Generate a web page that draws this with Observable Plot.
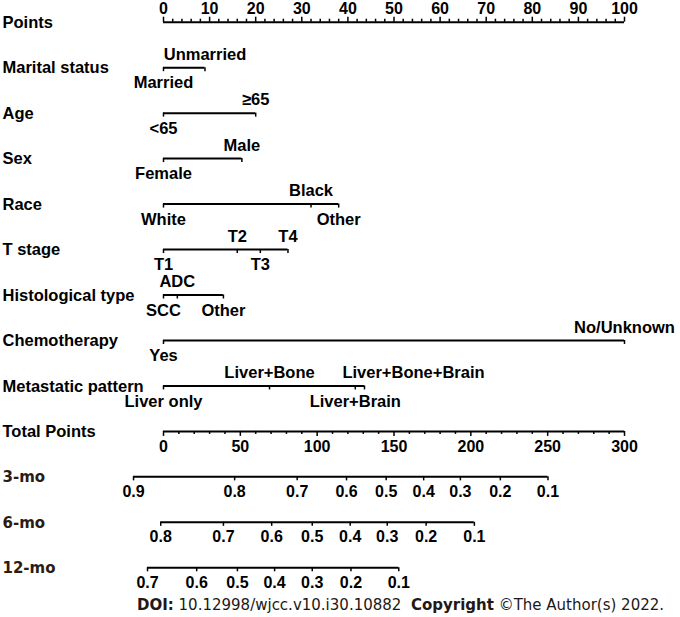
<!DOCTYPE html>
<html><head><meta charset="utf-8">
<script src="https://cdn.jsdelivr.net/npm/d3@7"></script>
<script src="https://cdn.jsdelivr.net/npm/@observablehq/plot@0.6"></script>
<style>
html,body{margin:0;padding:0;background:#fff;overflow:hidden;}
#cap{font-family:"DejaVu Sans",Verdana,sans-serif;font-size:15px;color:#231815;padding-left:137px;line-height:22px;height:22px;white-space:pre;}
</style></head><body>
<div id="chart"></div>
<div id="cap"><b>DOI:</b> 10.12998/wjcc.v10.i30.10882  <b>Copyright</b> ©The Author(s) 2022.</div>
<script>
// ---- data ----
const rows = ["Points","Marital status","Age","Sex","Race","T stage","Histological type","Chemotherapy","Metastatic pattern","Total Points","3-mo","6-mo","12-mo"];

const pointsMajor = [0,10,20,30,40,50,60,70,80,90,100];
const pointsMinor = [2,4,6,8,12,14,16,18,22,24,26,28,32,34,36,38,42,44,46,48,52,54,56,58,62,64,66,68,72,74,76,78,82,84,86,88,92,94,96,98];
const totalMajor = [0,50,100,150,200,250,300];
const totalMinor = [10,20,30,40,60,70,80,90,110,120,130,140,160,170,180,190,210,220,230,240,260,270,280,290];

const maritalLevels = ["Married","Unmarried"];
const maritalPoints = [0,9];
const ageLevels = ["<65","≥65"];
const agePoints = [0,20];
const sexLevels = ["Female","Male"];
const sexPoints = [0,17];
const raceLevels = ["White","Black","Other"];
const racePoints = [0,32,38];
const tLevels = ["T1","T2","T3","T4"];
const tPoints = [0,16,21,27];
const histLevels = ["SCC","ADC","Other"];
const histPoints = [0,3,13];
const chemoLevels = ["Yes","No/Unknown"];
const chemoPoints = [0,100];
const metaLevels = ["Liver only","Liver+Bone","Liver+Brain","Liver+Bone+Brain"];
const metaPoints = [0,23,41.6,43.6];

const s3Probs = [0.9,0.8,0.7,0.6,0.5,0.4,0.3,0.2,0.1];
const s3Total = [-19.5,46.3,87.0,119.1,144.9,169.3,193.2,219.2,250.2];
const s6Probs = [0.8,0.7,0.6,0.5,0.4,0.3,0.2,0.1];
const s6Total = [-1.8,39.0,70.4,96.8,121.5,145.6,170.9,202.3];
const s12Probs = [0.7,0.6,0.5,0.4,0.3,0.2,0.1];
const s12Total = [-10.4,21.6,48.1,72.3,96.8,122.0,153.1];

// ---- build tables ----
const variables = [
  {row:"Marital status", levels: maritalLevels, points: maritalPoints},
  {row:"Age", levels: ageLevels, points: agePoints},
  {row:"Sex", levels: sexLevels, points: sexPoints},
  {row:"Race", levels: raceLevels, points: racePoints},
  {row:"T stage", levels: tLevels, points: tPoints},
  {row:"Histological type", levels: histLevels, points: histPoints},
  {row:"Chemotherapy", levels: chemoLevels, points: chemoPoints},
  {row:"Metastatic pattern", levels: metaLevels, points: metaPoints}
];
const varLines = variables.map(v => ({row: v.row, lo: d3.min(v.points), hi: d3.max(v.points)}));
const levelData = variables.flatMap(v => {
  const items = v.levels.map((l, i) => ({row: v.row, label: l, pts: v.points[i]}));
  items.sort((a, b) => a.pts - b.pts);
  return items.map((d, i) => ({...d, above: i % 2 === 1}));
});
const shifted = new Set(["Liver+Bone+Brain"]);

const survAxes = [
  {row:"3-mo", probs: s3Probs, total: s3Total},
  {row:"6-mo", probs: s6Probs, total: s6Total},
  {row:"12-mo", probs: s12Probs, total: s12Total}
];
const survLines = survAxes.map(a => ({row: a.row, lo: d3.min(a.total) / 3, hi: d3.max(a.total) / 3}));
const survTicks = survAxes.flatMap(a => a.probs.map((p, i) => ({row: a.row, prob: p, x: a.total[i] / 3})));

// ---- layout ----
const bw = 45.47;
const up = L => ({insetTop: bw / 2 - L, insetBottom: bw / 2});
const down = L => ({insetTop: bw / 2, insetBottom: bw / 2 - L});
const F = {fontFamily: "'Liberation Sans', Arial, sans-serif", fontWeight: "bold", fill: "#000"};
const F2 = {fontFamily: "'DejaVu Sans', Verdana, sans-serif", fontWeight: "bold", fill: "#2b1b12"};
const LW = 2, TW = 1.5;

const chart = Plot.plot({
  width: 680,
  height: 594,
  marginLeft: 163,
  marginRight: 56,
  marginTop: 0,
  marginBottom: 0,
  x: {domain: [0, 100], axis: null},
  y: {type: "band", domain: rows, range: [21.7 - bw / 2, 567.3 + bw / 2], padding: 0, round: false, axis: null},
  style: {background: "white", overflow: "visible"},
  marks: [
    // row labels
    Plot.text(rows.slice(0, 10), {y: d => d, frameAnchor: "left", textAnchor: "start", dx: -161, dy: 0.5, text: d => d, fontSize: 16.5, ...F}),
    Plot.text(rows.slice(10), {y: d => d, frameAnchor: "left", textAnchor: "start", dx: -161, dy: 0.5, text: d => d, fontSize: 15, ...F2}),
    // Points axis
    Plot.ruleY([{row: "Points", lo: 0, hi: 100}], {y: "row", x1: "lo", x2: "hi", stroke: "#000", strokeWidth: LW}),
    Plot.tickX(pointsMajor, {x: d => d, y: () => "Points", ...up(5), stroke: "#000", strokeWidth: TW}),
    Plot.tickX(pointsMinor, {x: d => d, y: () => "Points", ...up(3), stroke: "#000", strokeWidth: TW}),
    Plot.text(pointsMajor, {x: d => d, y: () => "Points", dy: -13, text: d => String(d), fontSize: 16, ...F}),
    // variable lines
    Plot.ruleY(varLines, {y: "row", x1: "lo", x2: "hi", stroke: "#000", strokeWidth: LW}),
    Plot.tickX(levelData, {x: "pts", y: "row", ...down(4), stroke: "#000", strokeWidth: TW}),
    Plot.text(levelData.filter(d => d.above && !shifted.has(d.label)), {x: "pts", y: "row", dy: -13, text: "label", fontSize: 16.5, ...F}),
    Plot.text(levelData.filter(d => d.above && shifted.has(d.label)), {x: "pts", y: "row", dy: -13, dx: 49, text: "label", fontSize: 16.5, ...F}),
    Plot.text(levelData.filter(d => !d.above), {x: "pts", y: "row", dy: 15.5, text: "label", fontSize: 16.5, ...F}),
    // Total points axis
    Plot.ruleY([{row: "Total Points", lo: 0, hi: 100}], {y: "row", x1: "lo", x2: "hi", stroke: "#000", strokeWidth: LW}),
    Plot.tickX(totalMajor, {x: d => d / 3, y: () => "Total Points", ...down(5), stroke: "#000", strokeWidth: TW}),
    Plot.tickX(totalMinor, {x: d => d / 3, y: () => "Total Points", ...down(3), stroke: "#000", strokeWidth: TW}),
    Plot.text(totalMajor, {x: d => d / 3, y: () => "Total Points", dy: 15, text: d => String(d), fontSize: 16, ...F}),
    // survival axes
    Plot.ruleY(survLines, {y: "row", x1: "lo", x2: "hi", stroke: "#000", strokeWidth: LW}),
    Plot.tickX(survTicks, {x: "x", y: "row", ...down(4), stroke: "#000", strokeWidth: TW}),
    Plot.text(survTicks, {x: "x", y: "row", dy: 15, text: d => d3.format(".1f")(d.prob), fontSize: 16, ...F})
  ]
});
document.getElementById("chart").appendChild(chart);
</script>
</body></html>
